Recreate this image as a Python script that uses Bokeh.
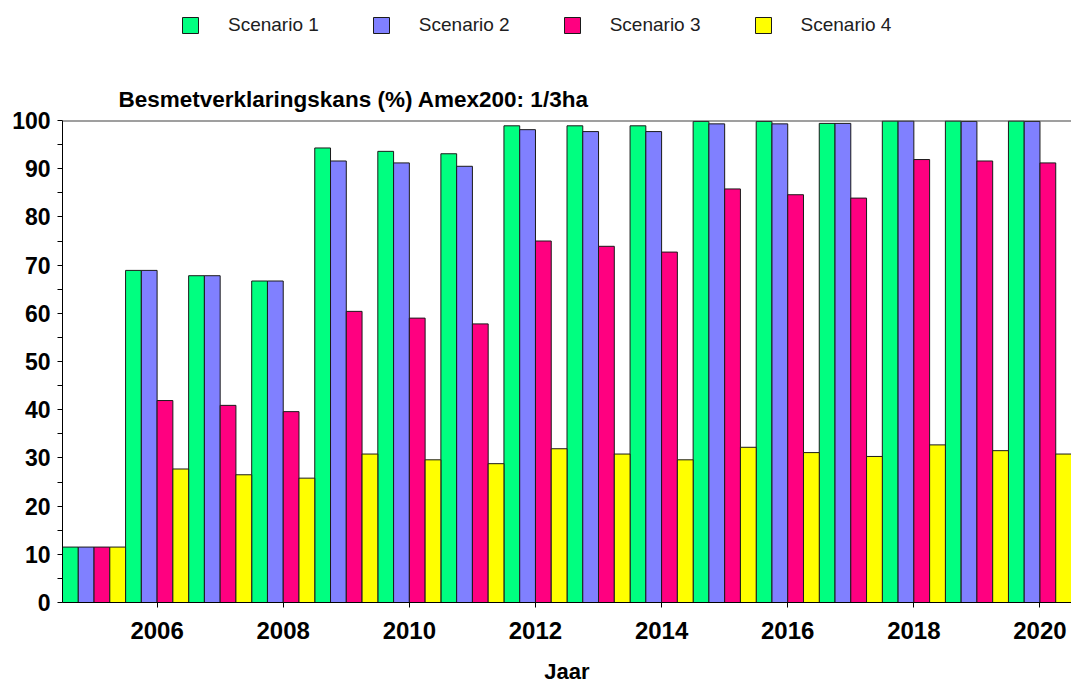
from bokeh.plotting import figure
from bokeh.layouts import column
from bokeh.models import ColumnDataSource, Legend, LegendItem, Span, FixedTicker
from bokeh.transform import dodge
from bokeh.embed import file_html
from bokeh.resources import INLINE

years = [2005, 2006, 2007, 2008, 2009, 2010, 2011, 2012, 2013, 2014, 2015, 2016, 2017, 2018, 2019, 2020]
scenario1 = [11.5, 68.9, 67.8, 66.7, 94.3, 93.6, 93.1, 98.9, 98.9, 98.9, 99.8, 99.8, 99.4, 99.9, 99.9, 99.9]
scenario2 = [11.5, 68.9, 67.8, 66.7, 91.6, 91.2, 90.5, 98.1, 97.7, 97.7, 99.3, 99.3, 99.4, 99.9, 99.8, 99.8]
scenario3 = [11.5, 41.9, 40.9, 39.6, 60.4, 59.0, 57.8, 75.0, 73.9, 72.7, 85.8, 84.6, 83.9, 91.9, 91.6, 91.2]
scenario4 = [11.5, 27.7, 26.5, 25.8, 30.8, 29.6, 28.8, 31.9, 30.8, 29.6, 32.2, 31.1, 30.3, 32.7, 31.5, 30.8]
series_names = ["Scenario 1", "Scenario 2", "Scenario 3", "Scenario 4"]
colors = ["#00FF80", "#8080FF", "#FF0080", "#FFFF00"]
x_ticks = [2006, 2008, 2010, 2012, 2014, 2016, 2018, 2020]
y_ticks = [0, 10, 20, 30, 40, 50, 60, 70, 80, 90, 100]
title_text = "Besmetverklaringskans (%) Amex200: 1/3ha"
x_label = "Jaar"

W = 1071
LEG_H = 48
H = 686 - LEG_H

src = ColumnDataSource(dict(year=years, s1=scenario1, s2=scenario2, s3=scenario3, s4=scenario4))
keys = ["s1", "s2", "s3", "s4"]

p = figure(width=W, height=H, output_backend="svg", toolbar_location=None,
           x_range=(2004.5, 2020.5), y_range=(0, 100),
           min_border_left=62, min_border_right=0, min_border_top=120 - LEG_H, min_border_bottom=0)
p.background_fill_color = "white"
p.border_fill_color = "white"
p.outline_line_color = None
p.grid.visible = False

p.title.text = title_text
p.title.text_font = "Liberation Sans"
p.title.text_font_size = "22.5px"
p.title.text_font_style = "bold"
p.title.text_color = "black"
p.title.align = "left"
p.title.offset = 56
p.title.standoff = 17

bw = 0.25
offs = [-0.375, -0.125, 0.125, 0.375]
for k, o, c in zip(keys, offs, colors):
    p.vbar(x=dodge("year", o), top=k, width=bw, bottom=0, source=src,
           fill_color=c, line_color="#1a1a1a", line_width=1)

p.add_layout(Span(location=100, dimension="width", line_color="#404040", line_width=2))

xa = p.xaxis[0]
xa.ticker = FixedTicker(ticks=x_ticks)
xa.axis_label = x_label
xa.axis_label_text_font = "Liberation Sans"
xa.axis_label_text_font_size = "22px"
xa.axis_label_text_font_style = "bold"
xa.axis_label_text_color = "black"
xa.axis_label_standoff = 17
xa.major_label_text_font = "Liberation Sans"
xa.major_label_text_font_size = "24px"
xa.major_label_text_font_style = "bold"
xa.major_label_text_color = "black"
xa.major_label_standoff = 14
xa.major_tick_out = 5
xa.major_tick_in = 0
xa.minor_tick_line_color = None
xa.axis_line_color = "black"
xa.major_tick_line_color = "black"

ya = p.yaxis[0]
ya.ticker = FixedTicker(ticks=y_ticks, minor_ticks=[5, 15, 25, 35, 45, 55, 65, 75, 85, 95])
ya.major_label_text_font = "Liberation Sans"
ya.major_label_text_font_size = "23px"
ya.major_label_text_font_style = "bold"
ya.major_label_text_color = "black"
ya.major_label_standoff = 7
ya.major_tick_out = 5
ya.major_tick_in = 0
ya.minor_tick_out = 5
ya.minor_tick_in = 0
ya.axis_line_color = "black"
ya.major_tick_line_color = "black"
ya.minor_tick_line_color = "black"

# legend strip above the chart; its renderers use the same data but lie outside its (0, 1) range
lg = figure(width=W, height=LEG_H, output_backend="svg", toolbar_location=None,
            x_range=(0, 1), y_range=(0, 1), min_border=0,
            x_axis_location=None, y_axis_location=None)
lg.outline_line_color = None
lg.grid.visible = False
lg.background_fill_color = "white"
lg.border_fill_color = "white"
items = []
for n, k, c in zip(series_names, keys, colors):
    r = lg.vbar(x="year", top=k, width=bw, source=src,
                fill_color=c, line_color="#1a1a1a", line_width=1)
    items.append(LegendItem(label=n, renderers=[r]))
legend = Legend(items=items, orientation="horizontal", location=(118, 12),
                glyph_width=20, glyph_height=20, label_standoff=28, spacing=52,
                label_width=90, padding=0, margin=0, border_line_color=None,
                background_fill_alpha=0,
                label_text_font="Liberation Sans", label_text_font_size="19px",
                label_text_color="#202020")
lg.add_layout(legend, "center")

layout = column(lg, p, spacing=0)
open("out.html", "w").write(file_html(layout, INLINE))
